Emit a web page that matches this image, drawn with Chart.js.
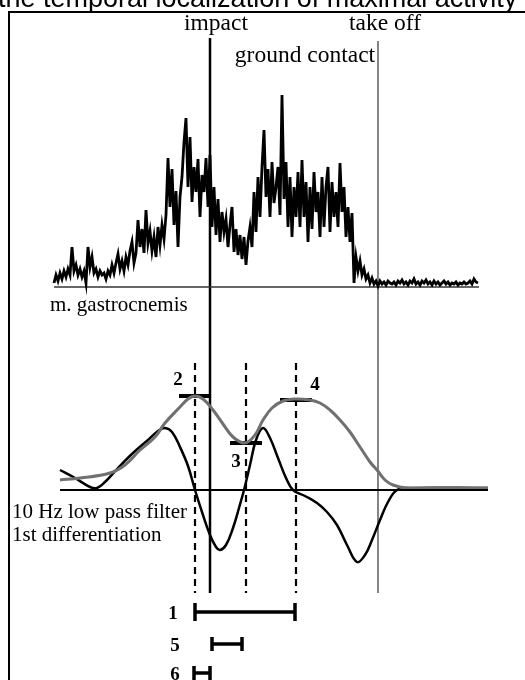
<!DOCTYPE html>
<html>
<head>
<meta charset="utf-8">
<script src="https://cdn.jsdelivr.net/npm/chart.js@4.4.1/dist/chart.umd.min.js"></script>
<style>
  html, body { margin: 0; padding: 0; background: #fff; }
  canvas { display: block; }
</style>
</head>
<body>
<canvas id="emgChart" width="525" height="680"></canvas>
<script>
// Time in ms relative to impact, amplitudes in arbitrary units

// Raw EMG, m. gastrocnemis (one sample every 2 ms)
const emgStart = -156;
const emgStep = 2;
const emgAmplitude = [
    4, 12, 6, 14, 8, 16, 10, 18, 12, 40,
    16, 22, 12, 18, 10, 16, 4, 40, 20, 30,
    14, 18, 10, 16, 12, 14, 8, 16, 12, 22,
    14, 24, 33, 18, 26, 16, 30, 22, 36, 45,
    24, 34, 67, 40, 58, 34, 77, 44, 56, 36,
    50, 30, 60, 42, 62, 48, 72, 129, 80, 118,
    62, 96, 40, 90, 110, 145, 169, 100, 150, 85,
    120, 95, 128, 70, 112, 95, 129, 80, 132, 60,
    100, 52, 88, 45, 75, 55, 68, 40, 62, 80,
    35, 58, 32, 52, 28, 50, 22, 46, 60, 40,
    95, 55, 110, 70, 120, 157, 90, 118, 70, 125,
    84, 100, 120, 72, 192, 88, 125, 60, 110, 50,
    100, 70, 115, 60, 127, 70, 105, 45, 100, 58,
    115, 75, 95, 50, 110, 60, 100, 120, 55, 105,
    70, 95, 60, 124, 75, 100, 50, 80, 45, 74,
    4, 30, 16, 26, 12, 18, 8, 12, 4, 9,
    3, 6, 1, 6, 3, 5, 2, 6, 4, 3,
    5, 2, 6, 4, 7, 3, 5, 2, 6, 4,
    8, 3, 5, 2, 6, 4, 7, 3, 5, 2,
    6, 3, 5, 2, 4, 6, 3, 5, 2, 4,
    3, 5, 2, 4, 3, 5, 3, 4, 6, 3,
    8, 5, 4
];

// 10 Hz low pass filtered EMG (gray)
const filterTime = [-150, -130, -100, -85, -70, -55, -45, -30, -22, -15, -7, 3, 13, 23, 35, 45, 53, 62, 73, 85, 100, 110, 120, 130, 140, 150, 160, 167, 175, 183, 197, 220, 278];
const filterEnvelope = [10, 12, 17, 25, 40, 53, 67, 83, 91, 94, 91, 80, 66, 53, 47, 55, 70, 82, 89, 91, 90, 87, 80, 70, 58, 43, 28, 20, 10, 5, 2, 2, 2];

// 1st differentiation of the filtered signal (black)
const diffTime = [-150, -135, -120, -113, -105, -92, -77, -62, -52, -45, -38, -30, -22, -15, -8, 0, 6, 10, 16, 23, 29, 34, 40, 46, 53, 60, 68, 76, 83, 95, 107, 117, 127, 137, 147, 155, 162, 170, 178, 187, 200, 278];
const diffValues = [20, 12, 3, 2, 8, 22, 37, 50, 59, 62, 58, 43, 24, 0, -22, -45, -57, -60, -55, -38, -18, 0, 25, 50, 62, 52, 32, 12, 0, -6, -13, -22, -35, -55, -72, -65, -50, -30, -12, 0, 2, 2];

// Events and markers
const eventNames = ['impact', 'take off'];
const eventTimes = [0, 168];
const peakNames = ['2', '3', '4'];
const peakTimes = [-15, 36, 86];
const peakValues = [94, 47, 90];
const intervalNames = ['1', '5', '6'];
const intervalStart = [-15, 2, -16];
const intervalEnd = [85, 32, 0];

// Layout (in filter-axis units)
const eventTop = [452, 449];
const lineBottom = -103;
const dashTop = 127;
const intervalRows = [-122, -154, -183];
const intervalCaps = [9, 7, 7];

function seg(points) {
    return points.map(p => ({ x: p[0], y: p[1] }));
}

const datasets = [];

// raw EMG
datasets.push({
    data: emgAmplitude.map((v, i) => ({ x: emgStart + i * emgStep, y: v })),
    yAxisID: 'yE',
    borderColor: '#000',
    borderWidth: 2.8,
    tension: 0
});
// baselines
datasets.push({
    data: seg([[emgStart, 0], [emgStart + (emgAmplitude.length - 1) * emgStep + 1, 0]]),
    yAxisID: 'yE',
    borderColor: '#333',
    borderWidth: 1.5
});
datasets.push({
    data: seg([[-150, 0], [278, 0]]),
    yAxisID: 'yF',
    borderColor: '#000',
    borderWidth: 2
});
// filtered + derivative
datasets.push({
    data: filterTime.map((t, i) => ({ x: t, y: filterEnvelope[i] })),
    yAxisID: 'yF',
    borderColor: '#707070',
    borderWidth: 3,
    tension: 0.4
});
datasets.push({
    data: diffTime.map((t, i) => ({ x: t, y: diffValues[i] })),
    yAxisID: 'yF',
    borderColor: '#000',
    borderWidth: 2.5,
    tension: 0.4
});
// impact / take off lines
eventTimes.forEach((t, i) => {
    datasets.push({
        data: seg([[t, eventTop[i]], [t, lineBottom]]),
        yAxisID: 'yF',
        borderColor: i === 0 ? '#000' : '#444',
        borderWidth: i === 0 ? 2.5 : 1.3
    });
});
// dashed lines + peak ticks
peakTimes.forEach((t, i) => {
    datasets.push({
        data: seg([[t, dashTop], [t, lineBottom]]),
        yAxisID: 'yF',
        borderColor: '#000',
        borderWidth: 2.2,
        borderDash: [7, 5]
    });
    datasets.push({
        data: seg([[t - 16, peakValues[i]], [t + 16, peakValues[i]]]),
        yAxisID: 'yF',
        borderColor: '#000',
        borderWidth: 4
    });
});
// interval bars
intervalStart.forEach((a, i) => {
    const b = intervalEnd[i], v = intervalRows[i], c = intervalCaps[i];
    datasets.push({
        data: [
            { x: a, y: v + c }, { x: a, y: v - c }, { x: a, y: null },
            { x: a, y: v }, { x: b, y: v }, { x: b, y: null },
            { x: b, y: v + c }, { x: b, y: v - c }
        ],
        yAxisID: 'yF',
        borderColor: '#000',
        borderWidth: 3.5,
        spanGaps: false
    });
});

const serif = '"Liberation Serif", "Times New Roman", serif';

const figurePlugin = {
    id: 'figureText',
    beforeDraw(chart) {
        const ctx = chart.ctx;
        ctx.save();
        ctx.fillStyle = '#fff';
        ctx.fillRect(0, 0, chart.width, chart.height);
        // frame
        ctx.strokeStyle = '#000';
        ctx.lineWidth = 2;
        ctx.beginPath();
        ctx.moveTo(9, chart.height);
        ctx.lineTo(9, 12);
        ctx.lineTo(chart.width, 12);
        ctx.stroke();
        ctx.restore();
    },
    afterDatasetsDraw(chart) {
        const ctx = chart.ctx;
        const x = chart.scales.x, y = chart.scales.yF;
        ctx.save();
        ctx.fillStyle = '#000';

        // title (only its lower part shows above the frame)
        const title = 'the temporal localization of maximal activity';
        ctx.font = '27px "Liberation Sans", Arial, sans-serif';
        ctx.textAlign = 'left';
        ctx.textBaseline = 'alphabetic';
        ctx.fillText(title, -2, 7);

        function label(text, t, v, font, align) {
            ctx.font = font;
            ctx.textAlign = align || 'center';
            ctx.textBaseline = 'middle';
            ctx.fillText(text, x.getPixelForValue(t), y.getPixelForValue(v));
        }

        const big = '23.5px ' + serif;
        const small = '21px ' + serif;
        const bold = 'bold 19px ' + serif;

        label(eventNames[0], 6, 466, big);
        label(eventNames[1], 175, 466, big);
        label('ground contact', 95, 434, big);
        label('m. gastrocnemis', -160, 185, small, 'left');
        label('10 Hz low pass filter', -198, -22, small, 'left');
        label('1st differentiation', -198, -45, small, 'left');

        label(peakNames[0], -32, 110, bold);
        label(peakNames[1], 26, 28, bold);
        label(peakNames[2], 105, 105, bold);

        intervalNames.forEach((n, i) => {
            label(n, i === 0 ? -37 : -35, intervalRows[i] - 2, bold);
        });
        ctx.restore();
    }
};

new Chart(document.getElementById('emgChart').getContext('2d'), {
    type: 'line',
    data: { datasets: datasets },
    options: {
        responsive: false,
        animation: false,
        events: [],
        layout: { padding: 0 },
        elements: {
            point: { radius: 0 },
            line: { fill: false, borderCapStyle: 'butt' }
        },
        plugins: {
            legend: { display: false },
            tooltip: { enabled: false }
        },
        scales: {
            x: { type: 'linear', min: -210, max: 315, display: false },
            yE: { type: 'linear', min: -393, max: 287, display: false },
            yF: { type: 'linear', min: -190, max: 490, display: false }
        }
    },
    plugins: [figurePlugin]
});
</script>
</body>
</html>
